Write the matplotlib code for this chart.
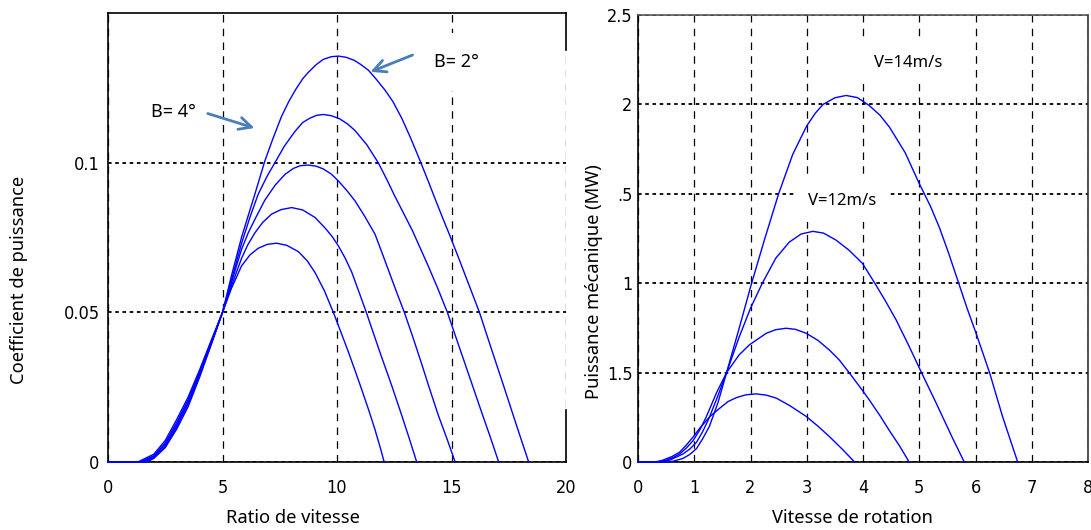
import matplotlib
matplotlib.use("Agg")
import matplotlib.pyplot as plt
from matplotlib import font_manager

# --- left panel: power coefficient vs tip speed ratio (one curve per pitch angle)
lam_1 = [0, 1.7, 2.0, 2.5, 3.0, 3.5, 4.0, 4.5, 5.0, 5.4, 5.83, 6.41, 6.85, 7.2, 7.58, 7.9,
         8.2, 8.5, 8.75, 9.1, 9.4, 9.75, 10.06, 10.4, 10.75, 11.0, 11.37, 11.7, 12.1, 12.45,
         12.83, 13.2, 13.63, 14.0, 14.29, 14.6, 14.93, 15.3, 15.7, 16.22, 16.6, 16.91,
         17.3, 17.64, 18.0, 18.37]
cp_1 = [0, 0, 0.0012, 0.0048, 0.011, 0.0185, 0.0283, 0.039, 0.05, 0.0625, 0.075, 0.0894,
        0.1006, 0.108, 0.1155, 0.1205, 0.1245, 0.128, 0.1302, 0.1328, 0.1345, 0.1354,
        0.1356, 0.1352, 0.1342, 0.133, 0.1309, 0.128, 0.1242, 0.1203, 0.1148, 0.1085,
        0.1006, 0.0935, 0.0878, 0.0818, 0.0756, 0.0684, 0.0604, 0.05, 0.0411, 0.0339,
        0.0249, 0.0169, 0.0085, 0]

lam_2 = [0, 1.6, 2.0, 2.5, 3.0, 3.5, 4.0, 4.5, 5.0, 5.4, 5.83, 6.2, 6.56, 6.95, 7.29, 7.7,
         8.16, 8.5, 8.8, 9.1, 9.4, 9.75, 10.1, 10.45, 10.79, 11.3, 11.8, 12.2, 12.5, 12.9,
         13.3, 13.65, 14.0, 14.4, 14.82, 15.2, 15.6, 15.95, 16.33, 16.7, 17.06]
cp_2 = [0, 0, 0.0015, 0.0052, 0.0117, 0.0193, 0.0289, 0.0393, 0.05, 0.061, 0.073, 0.0818,
        0.0895, 0.0955, 0.1, 0.1055, 0.1104, 0.1134, 0.1148, 0.1158, 0.1161, 0.1157,
        0.1147, 0.113, 0.1107, 0.106, 0.1, 0.094, 0.0892, 0.0832, 0.0772, 0.0712, 0.0652,
        0.058, 0.05, 0.0415, 0.0326, 0.0248, 0.0163, 0.0082, 0]

lam_3 = [0, 1.5, 2.0, 2.5, 3.0, 3.5, 4.0, 4.5, 5.0, 5.4, 5.83, 6.12, 6.41, 6.85, 7.3, 7.73,
         8.1, 8.4, 8.75, 9.1, 9.4, 9.75, 10.06, 10.45, 10.79, 11.2, 11.66, 12.0, 12.3,
         12.6, 12.94, 13.3, 13.7, 14.05, 14.43, 14.8, 15.16]
cp_3 = [0, 0, 0.0018, 0.0058, 0.0124, 0.0201, 0.0295, 0.0397, 0.05, 0.0602, 0.071, 0.0765,
        0.081, 0.0875, 0.0925, 0.0961, 0.0981, 0.099, 0.0992, 0.0988, 0.0979, 0.0962,
        0.0939, 0.0905, 0.0872, 0.0822, 0.0761, 0.0692, 0.063, 0.0568, 0.05, 0.042,
        0.0327, 0.0243, 0.0155, 0.0078, 0]

lam_4 = [0, 1.4, 2.0, 2.5, 3.0, 3.5, 4.0, 4.5, 5.0, 5.4, 5.83, 6.1, 6.41, 6.75, 7.14, 7.55,
         8.02, 8.5, 9.04, 9.5, 9.8, 10.06, 10.35, 10.64, 10.95, 11.28, 11.6, 11.95, 12.4,
         12.83, 13.15, 13.48]
cp_4 = [0, 0, 0.0021, 0.0064, 0.0132, 0.0208, 0.03, 0.04, 0.05, 0.059, 0.068, 0.0725,
        0.0765, 0.08, 0.0828, 0.0843, 0.085, 0.0842, 0.0817, 0.078, 0.0752, 0.0722,
        0.0682, 0.0635, 0.057, 0.05, 0.0428, 0.035, 0.0253, 0.0155, 0.008, 0]

lam_5 = [0, 1.3, 2.0, 2.5, 3.0, 3.5, 4.0, 4.5, 5.0, 5.39, 5.83, 6.2, 6.56, 6.95, 7.36, 7.8,
         8.31, 8.7, 9.04, 9.45, 9.84, 10.2, 10.5, 10.8, 11.08, 11.4, 11.66, 11.9, 12.06]
cp_5 = [0, 0, 0.0026, 0.0072, 0.0142, 0.0217, 0.0308, 0.0405, 0.05, 0.058, 0.0655, 0.0692,
        0.0714, 0.0727, 0.0731, 0.0724, 0.0703, 0.0672, 0.0633, 0.0572, 0.05, 0.0428,
        0.0367, 0.0303, 0.0242, 0.017, 0.0108, 0.0045, 0]

lambda_series = [(lam_1, cp_1), (lam_2, cp_2), (lam_3, cp_3), (lam_4, cp_4), (lam_5, cp_5)]

# --- right panel: mechanical power vs rotation speed (one curve per wind speed)
w_14 = [0, 0.5, 0.62, 0.8, 0.92, 1.04, 1.15, 1.27, 1.42, 1.575, 1.8, 2.02, 2.25, 2.5, 2.75,
        3.0, 3.15, 3.29, 3.5, 3.7, 3.9, 4.11, 4.3, 4.47, 4.75, 5.0, 5.2, 5.36, 5.52, 5.68,
        5.85, 6.01, 6.25, 6.48, 6.75]
p_14 = [0, 0, 0.004, 0.02, 0.042, 0.075, 0.13, 0.2, 0.33, 0.5, 0.75, 1.0, 1.245, 1.5, 1.72,
        1.88, 1.95, 2.0, 2.037, 2.05, 2.038, 1.994, 1.94, 1.873, 1.73, 1.557, 1.43, 1.31,
        1.17, 1.02, 0.86, 0.72, 0.5, 0.255, 0]

w_12 = [0, 0.4, 0.56, 0.8, 0.92, 1.04, 1.15, 1.27, 1.42, 1.575, 1.8, 2.0, 2.21, 2.45, 2.69,
        2.9, 3.11, 3.3, 3.52, 3.75, 3.99, 4.21, 4.4, 4.59, 4.8, 5.04, 5.3, 5.59, 5.8]
p_12 = [0, 0, 0.01, 0.045, 0.072, 0.11, 0.17, 0.25, 0.37, 0.5, 0.7, 0.86, 1.0, 1.14, 1.23,
        1.275, 1.29, 1.28, 1.241, 1.185, 1.111, 1.0, 0.9, 0.794, 0.66, 0.5, 0.33, 0.135, 0]

w_10 = [0, 0.35, 0.5, 0.62, 0.74, 0.86, 0.98, 1.1, 1.21, 1.4, 1.575, 1.8, 1.98, 2.28, 2.45,
        2.63, 2.8, 2.99, 3.2, 3.4, 3.58, 3.76, 3.98, 4.11, 4.3, 4.47, 4.65, 4.82]
p_10 = [0, 0, 0.01, 0.025, 0.045, 0.078, 0.12, 0.18, 0.25, 0.39, 0.5, 0.6, 0.655, 0.72,
        0.74, 0.748, 0.742, 0.72, 0.68, 0.627, 0.57, 0.497, 0.405, 0.348, 0.26, 0.175,
        0.09, 0]

w_8 = [0, 0.3, 0.44, 0.6, 0.74, 0.86, 0.98, 1.1, 1.28, 1.45, 1.6, 1.75, 1.92, 2.1, 2.28,
       2.46, 2.7, 2.99, 3.2, 3.4, 3.64, 3.85]
p_8 = [0, 0, 0.01, 0.03, 0.055, 0.095, 0.14, 0.19, 0.255, 0.3, 0.338, 0.36, 0.376, 0.381,
       0.374, 0.357, 0.315, 0.255, 0.2, 0.143, 0.069, 0]

speed_series = [(w_14, p_14), (w_12, p_12), (w_10, p_10), (w_8, p_8)]

left_xticks = [0, 5, 10, 15, 20]
left_yticks = [0, 0.05, 0.1]
left_yticklabels = ["0", "0.05", "0.1"]
right_xticks = [0, 1, 2, 3, 4, 5, 6, 7, 8]
right_yticks = [0, 0.5, 1, 1.5, 2, 2.5]
right_yticklabels = ["0", "1.5", "1", ".5", "2", "2.5"]

installed = {f.name for f in font_manager.fontManager.ttflist}
tick_font = "Liberation Sans Narrow" if "Liberation Sans Narrow" in installed else "DejaVu Sans"
label_font = "Noto Sans"

line_color = "#0000ff"
arrow_color = "#4a7ebb"

fig = plt.figure(figsize=(10.91, 5.30), dpi=100)
ax1 = fig.add_axes([108 / 1091, 1 - 462 / 530, 458 / 1091, 449 / 530])
ax2 = fig.add_axes([638 / 1091, 1 - 462 / 530, 450 / 1091, 447 / 530])


def style_axes(ax):
    ax.xaxis.grid(True, linestyle=(0, (6, 5)), color="black", linewidth=0.9)
    ax.yaxis.grid(True, linestyle=(0, (2, 2)), color="black", linewidth=1.3)
    ax.set_axisbelow(True)
    ax.tick_params(direction="in", length=0, labelsize=13)
    for lab in ax.get_xticklabels() + ax.get_yticklabels():
        lab.set_fontfamily(tick_font)
        lab.set_fontstretch("condensed")
    for side in ["left", "bottom", "top", "right"]:
        ax.spines[side].set_linewidth(1.2)


# left panel
for lam, cp in lambda_series:
    ax1.plot(lam, cp, color=line_color, linewidth=1.0, clip_on=False, zorder=3)
ax1.set_xlim(0, 20)
ax1.set_ylim(0, 0.15)
ax1.set_xticks(left_xticks)
ax1.set_yticks(left_yticks)
ax1.set_yticklabels(left_yticklabels)
style_axes(ax1)
ax1.tick_params(axis="x", pad=12)
ax1.tick_params(axis="y", pad=6)
ax1.spines["right"].set_visible(False)
ax1.plot([1, 1], [0.918, 1], transform=ax1.transAxes, color="black", lw=1.2, clip_on=False)
ax1.plot([1, 1], [0, 0.116], transform=ax1.transAxes, color="black", lw=1.2, clip_on=False)
ax1.set_xlabel("Ratio de vitesse", fontfamily=label_font, fontsize=13.2)
ax1.set_ylabel("Coefficient de puissance", fontfamily=label_font, fontsize=13.2)
ax1.xaxis.set_label_coords(0.404, -0.105)
ax1.yaxis.set_label_coords(-0.175, 0.405)

ax1.text(2.85, 0.117, "B= 4°", fontfamily=label_font, fontsize=13,
         ha="center", va="center", zorder=5,
         bbox=dict(boxstyle="square,pad=1.45", fc="white", ec="none"))
ax1.annotate("", xy=(6.51, 0.1113), xytext=(4.24, 0.1167),
             arrowprops=dict(arrowstyle="->", color=arrow_color, lw=2, mutation_scale=22),
             zorder=6)
ax1.text(15.2, 0.1337, "B= 2°", fontfamily=label_font, fontsize=13,
         ha="center", va="center", zorder=5,
         bbox=dict(boxstyle="square,pad=1.1", fc="white", ec="none"))
ax1.annotate("", xy=(11.35, 0.130), xytext=(13.41, 0.1363),
             arrowprops=dict(arrowstyle="->", color=arrow_color, lw=2, mutation_scale=22),
             zorder=6)

# right panel
for w, p in speed_series:
    ax2.plot(w, p, color=line_color, linewidth=1.0, clip_on=False, zorder=3)
ax2.set_xlim(0, 8)
ax2.set_ylim(0, 2.5)
ax2.set_xticks(right_xticks)
ax2.set_yticks(right_yticks)
ax2.set_yticklabels(right_yticklabels)
style_axes(ax2)
ax2.tick_params(axis="x", pad=12)
ax2.tick_params(axis="y", pad=4)
ax2.spines["top"].set_color("#555555")
ax2.spines["right"].set_color("#333333")
ax2.set_xlabel("Vitesse de rotation", fontfamily=label_font, fontsize=13.2)
ax2.set_ylabel("Puissance mécanique (MW)", fontfamily=label_font, fontsize=13.2)
ax2.xaxis.set_label_coords(0.476, -0.105)
ax2.yaxis.set_label_coords(-0.078, 0.403)

vbox = dict(boxstyle="square,pad=0.8", fc="white", ec="none")
ax2.text(4.81, 2.231, "V=14m/s", fontfamily=label_font, fontsize=12,
         ha="center", va="center", bbox=vbox, zorder=5)
ax2.text(3.62, 1.46, "V=12m/s", fontfamily=label_font, fontsize=12,
         ha="center", va="center", bbox=vbox, zorder=5)

fig.savefig("out.png", dpi=100)
